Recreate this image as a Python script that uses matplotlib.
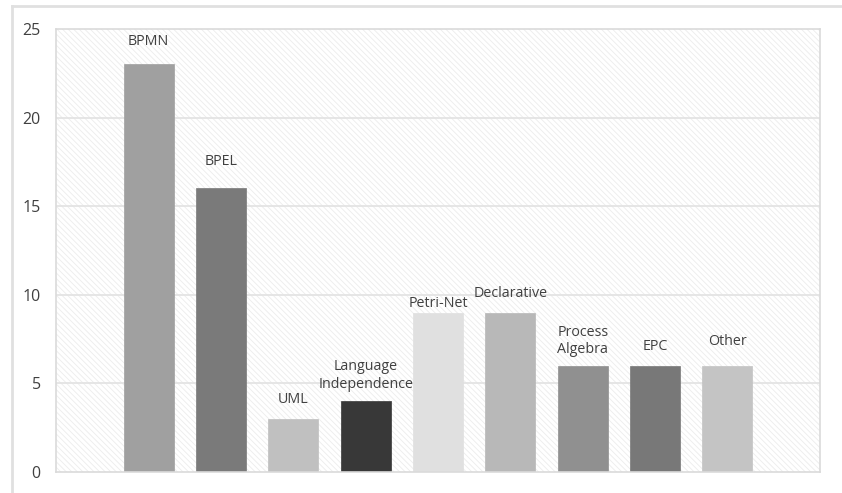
import matplotlib
matplotlib.use("Agg")
from matplotlib import pyplot as plt
from matplotlib.patches import Rectangle
from matplotlib.lines import Line2D

categories = ["BPMN", "BPEL", "UML", "Language\nIndependence", "Petri-Net",
              "Declarative", "Process\nAlgebra", "EPC", "Other"]
counts = [23, 16, 3, 4, 9, 9, 6, 6, 6]
colors = ["#a0a0a0", "#7a7a7a", "#c0c0c0", "#383838", "#e0e0e0",
          "#b8b8b8", "#909090", "#787878", "#c4c4c4"]
# label heights above bars (data units, hand placed like the original)
label_y = [24.3, 17.5, 4.1, 5.45, 9.5, 10.1, 7.4, 7.1, 7.35]
yticks = [0, 5, 10, 15, 20, 25]

plt.rcParams['font.family'] = ['Open Sans', 'DejaVu Sans']
plt.rcParams['hatch.linewidth'] = 0.6
plt.rcParams['hatch.color'] = "#ececec"

fig = plt.figure(figsize=(8.42, 4.93), dpi=100)
# outer frame lines (top and left only show in the original)
fig.add_artist(Line2D([12/842, 12/842], [0, 1 - 6/493], transform=fig.transFigure,
                      color="#e0e0e0", lw=2))
fig.add_artist(Line2D([12/842, 1], [1 - 6/493, 1 - 6/493], transform=fig.transFigure,
                      color="#e0e0e0", lw=2))

ax = fig.add_axes([56/842, 21/493, (820-56)/842, (472-29)/493])
ax.set_xlim(-1.28, 9.28)
ax.set_ylim(0, 25)

# faint diagonal hatched background
ax.add_patch(Rectangle((0, 0), 1, 1, transform=ax.transAxes, facecolor="white",
                       edgecolor="#ececec", hatch="\\\\\\\\\\\\", lw=0, zorder=0))

for y in yticks[1:-1]:
    ax.axhline(y, color="#e2e2e2", lw=1.2, zorder=1)

x = list(range(len(categories)))
ax.bar(x, counts, width=0.69, color=colors, edgecolor=colors, lw=0.5, zorder=2)

for xi, lab, ly in zip(x, categories, label_y):
    ax.text(xi, ly, lab, ha="center", va="center", fontsize=10.3,
            color="#404040", linespacing=1.2)

ax.set_xticks([])
ax.set_yticks(yticks)
ax.set_yticklabels([str(t) for t in yticks], fontsize=11.5, color="#404040")
ax.tick_params(axis="y", length=0, pad=11)
for s in ax.spines.values():
    s.set_color("#dadada")
    s.set_linewidth(1.2)

fig.savefig("out.png", dpi=100)
